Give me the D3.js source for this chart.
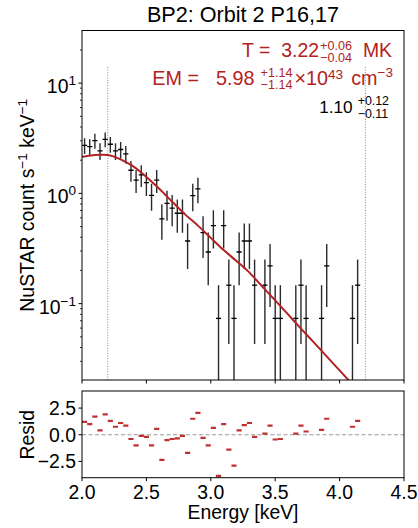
<!DOCTYPE html>
<html>
<head>
<meta charset="utf-8">
<script src="https://cdn.jsdelivr.net/npm/d3@7"></script>
<style>
  body { margin: 0; background: #fff; }
  text { font-family: "Liberation Sans", Arial, sans-serif; }
</style>
</head>
<body>
<div id="chart"></div>
<script>
// bin centres [keV] of the non-empty bins
const binEnergy = [2.02, 2.06, 2.10, 2.14, 2.18, 2.22, 2.26, 2.30, 2.34, 2.38,
  2.42, 2.46, 2.50, 2.54, 2.58, 2.62, 2.66, 2.70, 2.74, 2.78,
  2.82, 2.86, 2.90, 2.94, 2.98, 3.02, 3.06, 3.10, 3.14, 3.18,
  3.22, 3.26, 3.30, 3.34, 3.42, 3.46, 3.50, 3.54, 3.66, 3.70,
  3.74, 3.86, 3.90, 4.10, 4.14];
const binHalfWidth = 0.02;

// count rate [counts/s/keV] and 1-sigma error
const countRate = [2.72, 2.65, 3.01, 2.43, 3.09, 2.79, 2.43, 2.50, 2.28, 1.62,
  1.32, 1.47, 1.25, 0.96, 1.32, 0.588, 0.81, 0.735, 0.66, 0.66,
  0.37, 0.955, 1.10, 0.44, 0.294, 0.51, 0.0735, 0.51, 0.147, 0.0735,
  0.294, 0.37, 0.37, 0.147, 0.147, 0.22, 0.0735, 0.0735, 0.0735, 0.147,
  0.0735, 0.0735, 0.22, 0.0735, 0.147];
const rateErr = [0.447, 0.441, 0.471, 0.422, 0.476, 0.453, 0.422, 0.429, 0.409, 0.345,
  0.312, 0.329, 0.303, 0.265, 0.312, 0.208, 0.244, 0.232, 0.221, 0.221,
  0.164, 0.265, 0.285, 0.180, 0.147, 0.194, 0.0735, 0.194, 0.104, 0.0735,
  0.147, 0.164, 0.164, 0.104, 0.104, 0.127, 0.0735, 0.0735, 0.0735, 0.104,
  0.0735, 0.0735, 0.127, 0.0735, 0.104];

// residuals (data - model) / error
const residValue = [1.2, 1.0, 1.7, 0.4, 1.9, 1.3, 0.75, 1.1, 0.85, -0.4,
  -1.0, -0.1, -0.2, -1.0, 0.55, -2.35, -0.5, -0.4, -0.35, -0.1,
  -1.7, 1.5, 2.05, -0.3, -1.0, 0.65, -3.85, 1.0, -1.4, -2.9,
  0.4, 0.9, 1.1, -0.2, 0.1, 0.85, -0.45, -0.4, 0.1, 0.85,
  0.3, 0.45, 1.5, 0.75, 1.3];

// folded thermal model
const modelEnergy = [2.00, 2.05, 2.10, 2.15, 2.20, 2.25, 2.30, 2.35, 2.40, 2.45,
  2.50, 2.55, 2.60, 2.70, 2.80, 2.90, 3.00, 3.10, 3.20, 3.30,
  3.40, 3.50, 3.60, 3.70, 3.80, 3.90, 4.00, 4.10, 4.20];
const modelRate = [2.15, 2.19, 2.23, 2.24, 2.23, 2.15, 2.03, 1.89, 1.75, 1.58,
  1.41, 1.25, 1.10, 0.84, 0.645, 0.51, 0.395, 0.306, 0.243, 0.191,
  0.143, 0.107, 0.0798, 0.0594, 0.0445, 0.0332, 0.0248, 0.0185, 0.0138];

const fitRange = [2.2, 4.2];
const xTicks = [2.0, 2.5, 3.0, 3.5, 4.0, 4.5];
const logTicks = [0.1, 1, 10];
const logTickExp = ["\u22121", "0", "1"];
const residTicks = [2.5, 0.0, -2.5];

const red = "#b22222";
const W = 418, H = 528;
const pTop = { x0: 82, x1: 404, y0: 30.5, y1: 380 };
const pBot = { y0: 391, y1: 477.7 };

const svg = d3.select("#chart").append("svg")
    .attr("width", W)
    .attr("height", H);

const xScale = d3.scaleLinear().domain([2.0, 4.5]).range([pTop.x0, pTop.x1]);
const yScale = d3.scaleLog().domain([0.0203, 30]).range([pTop.y1, pTop.y0]);
const rScale = d3.scaleLinear().domain([-4.03, 4.1]).range([pBot.y1, pBot.y0]);

const defs = svg.append("defs");
defs.append("clipPath").attr("id", "clipTop").append("rect")
    .attr("x", pTop.x0).attr("y", pTop.y0)
    .attr("width", pTop.x1 - pTop.x0).attr("height", pTop.y1 - pTop.y0);
defs.append("clipPath").attr("id", "clipBot").append("rect")
    .attr("x", pTop.x0).attr("y", pBot.y0)
    .attr("width", pTop.x1 - pTop.x0).attr("height", pBot.y1 - pBot.y0);

// ---- top panel ----
const gTop = svg.append("g").attr("clip-path", "url(#clipTop)");

// fit range markers
fitRange.forEach(e => {
  gTop.append("line")
      .attr("x1", xScale(e)).attr("x2", xScale(e))
      .attr("y1", pTop.y1).attr("y2", pTop.y1 - 0.9 * (pTop.y1 - pTop.y0))
      .attr("stroke", "#888").attr("stroke-width", 1)
      .attr("stroke-dasharray", "1,1.6");
});

const yMin = yScale.domain()[0];
binEnergy.forEach((e, i) => {
  const v = countRate[i], err = rateErr[i];
  const lo = Math.max(v - err, yMin * 0.5);
  gTop.append("line")
      .attr("x1", xScale(e)).attr("x2", xScale(e))
      .attr("y1", yScale(lo)).attr("y2", yScale(v + err))
      .attr("stroke", "#2a2a2a").attr("stroke-width", 1.4);
  gTop.append("line")
      .attr("x1", xScale(e - binHalfWidth)).attr("x2", xScale(e + binHalfWidth))
      .attr("y1", yScale(v)).attr("y2", yScale(v))
      .attr("stroke", "#000").attr("stroke-width", 1.3);
});

const modelLine = d3.line()
    .x((d, i) => xScale(modelEnergy[i]))
    .y(d => yScale(d))
    .curve(d3.curveMonotoneX);

gTop.append("path")
    .attr("d", modelLine(modelRate))
    .attr("fill", "none")
    .attr("stroke", red)
    .attr("stroke-width", 2);

svg.append("rect")
    .attr("x", pTop.x0).attr("y", pTop.y0)
    .attr("width", pTop.x1 - pTop.x0).attr("height", pTop.y1 - pTop.y0)
    .attr("fill", "none").attr("stroke", "#000").attr("stroke-width", 1);

// y ticks (log)
const minor = [];
[-2, -1, 0, 1].forEach(d => {
  for (let k = 2; k <= 9; k++) {
    const v = k * Math.pow(10, d);
    if (v > yScale.domain()[0] && v < yScale.domain()[1]) minor.push(v);
  }
});
minor.forEach(v => {
  svg.append("line")
      .attr("x1", pTop.x0).attr("x2", pTop.x0 - 2)
      .attr("y1", yScale(v)).attr("y2", yScale(v))
      .attr("stroke", "#000").attr("stroke-width", 0.8);
});
logTicks.forEach((v, i) => {
  svg.append("line")
      .attr("x1", pTop.x0).attr("x2", pTop.x0 - 3.5)
      .attr("y1", yScale(v)).attr("y2", yScale(v))
      .attr("stroke", "#000").attr("stroke-width", 1);
  const t = svg.append("text")
      .attr("x", 76).attr("y", yScale(v) + 10)
      .attr("text-anchor", "end")
      .attr("font-size", 19.4);
  t.append("tspan").text("10");
  t.append("tspan").attr("dy", -8).attr("font-size", 13.6).text(logTickExp[i]);
});

// x ticks on top panel (no labels)
xTicks.forEach(v => {
  svg.append("line")
      .attr("x1", xScale(v)).attr("x2", xScale(v))
      .attr("y1", pTop.y1).attr("y2", pTop.y1 + 3.5)
      .attr("stroke", "#000").attr("stroke-width", 1);
});

// y label
const yl = svg.append("text")
    .attr("transform", `translate(33.5,${(pTop.y0 + pTop.y1) / 2}) rotate(-90)`)
    .attr("text-anchor", "middle")
    .attr("font-size", 19.4);
yl.append("tspan").text("NuSTAR count s");
yl.append("tspan").attr("dy", -7).attr("font-size", 13.6).text("\u22121");
yl.append("tspan").attr("dy", 7).text(" keV");
yl.append("tspan").attr("dy", -7).attr("font-size", 13.6).text("\u22121");

// title
svg.append("text")
    .attr("x", (pTop.x0 + pTop.x1) / 2).attr("y", 22)
    .attr("text-anchor", "middle")
    .attr("font-size", 21.6)
    .text("BP2: Orbit 2 P16,17");

// ---- annotations ----
function richText(segs, xRight, baseline, color) {
  const g = svg.append("g").attr("fill", color);
  let x = 0;
  segs.forEach(s => {
    if (s.gap) { x += s.gap; return; }
    if (s.sup !== undefined) {
      const a = g.append("text").attr("x", x).attr("y", baseline + s.supDy)
          .attr("font-size", s.size).text(s.sup);
      let w = a.node().getComputedTextLength();
      if (s.sub !== undefined) {
        const b = g.append("text").attr("x", x).attr("y", baseline + s.subDy)
            .attr("font-size", s.size).text(s.sub);
        w = Math.max(w, b.node().getComputedTextLength());
      }
      x += w;
      return;
    }
    const t = g.append("text").attr("x", x).attr("y", baseline)
        .attr("font-size", s.size).text(s.t);
    x += t.node().getComputedTextLength();
  });
  g.attr("transform", `translate(${xRight - x},0)`);
}

richText([
  { t: "T =", size: 19.4 }, { gap: 11 },
  { t: "3.22", size: 19.4 }, { gap: 1 },
  { sup: "+0.06", sub: "\u22120.04", size: 12.6, supDy: -7, subDy: 5 },
  { gap: 11 }, { t: "MK", size: 19.4 }
], 392, 57, red);

richText([
  { t: "EM =", size: 19.8 }, { gap: 17 },
  { t: "5.98", size: 19.8 }, { gap: 6 },
  { sup: "+1.14", sub: "\u22121.14", size: 12.6, supDy: -8.5, subDy: 3.5 },
  { gap: 2 },
  { t: "\u00d710", size: 19.8 },
  { sup: "43", size: 13.6, supDy: -5.7 },
  { gap: 8 }, { t: "cm", size: 19.8 },
  { sup: "\u22123", size: 13.6, supDy: -8 }
], 393, 85, red);

richText([
  { t: "1.10", size: 17.2 }, { gap: 5 },
  { sup: "+0.12", sub: "\u22120.11", size: 12.4, supDy: -7.7, subDy: 4.8 }
], 389, 112.7, "#000");

// ---- residual panel ----
const gBot = svg.append("g").attr("clip-path", "url(#clipBot)");

gBot.append("line")
    .attr("x1", pTop.x0).attr("x2", pTop.x1)
    .attr("y1", rScale(0)).attr("y2", rScale(0))
    .attr("stroke", "#999").attr("stroke-width", 1.1)
    .attr("stroke-dasharray", "4,2.5");

binEnergy.forEach((e, i) => {
  gBot.append("line")
      .attr("x1", xScale(e - binHalfWidth)).attr("x2", xScale(e + binHalfWidth))
      .attr("y1", rScale(residValue[i])).attr("y2", rScale(residValue[i]))
      .attr("stroke", "#c0302f").attr("stroke-width", 2.2);
});

svg.append("rect")
    .attr("x", pTop.x0).attr("y", pBot.y0)
    .attr("width", pTop.x1 - pTop.x0).attr("height", pBot.y1 - pBot.y0)
    .attr("fill", "none").attr("stroke", "#000").attr("stroke-width", 1);

residTicks.forEach(v => {
  svg.append("line")
      .attr("x1", pTop.x0).attr("x2", pTop.x0 - 3.5)
      .attr("y1", rScale(v)).attr("y2", rScale(v))
      .attr("stroke", "#000").attr("stroke-width", 1);
  svg.append("text")
      .attr("x", 76).attr("y", rScale(v) + 7)
      .attr("text-anchor", "end")
      .attr("font-size", 19.4)
      .text(d3.format(".1f")(v).replace("-", "\u2212"));
});

xTicks.forEach(v => {
  svg.append("line")
      .attr("x1", xScale(v)).attr("x2", xScale(v))
      .attr("y1", pBot.y1).attr("y2", pBot.y1 + 3.5)
      .attr("stroke", "#000").attr("stroke-width", 1);
  svg.append("text")
      .attr("x", xScale(v)).attr("y", 499)
      .attr("text-anchor", "middle")
      .attr("font-size", 19.4)
      .text(d3.format(".1f")(v));
});

svg.append("text")
    .attr("x", (pTop.x0 + pTop.x1) / 2).attr("y", 519)
    .attr("text-anchor", "middle")
    .attr("font-size", 19.4)
    .text("Energy [keV]");

svg.append("text")
    .attr("transform", `translate(33.5,${rScale(0)}) rotate(-90)`)
    .attr("text-anchor", "middle")
    .attr("font-size", 19.4)
    .text("Resid");
</script>
</body>
</html>
